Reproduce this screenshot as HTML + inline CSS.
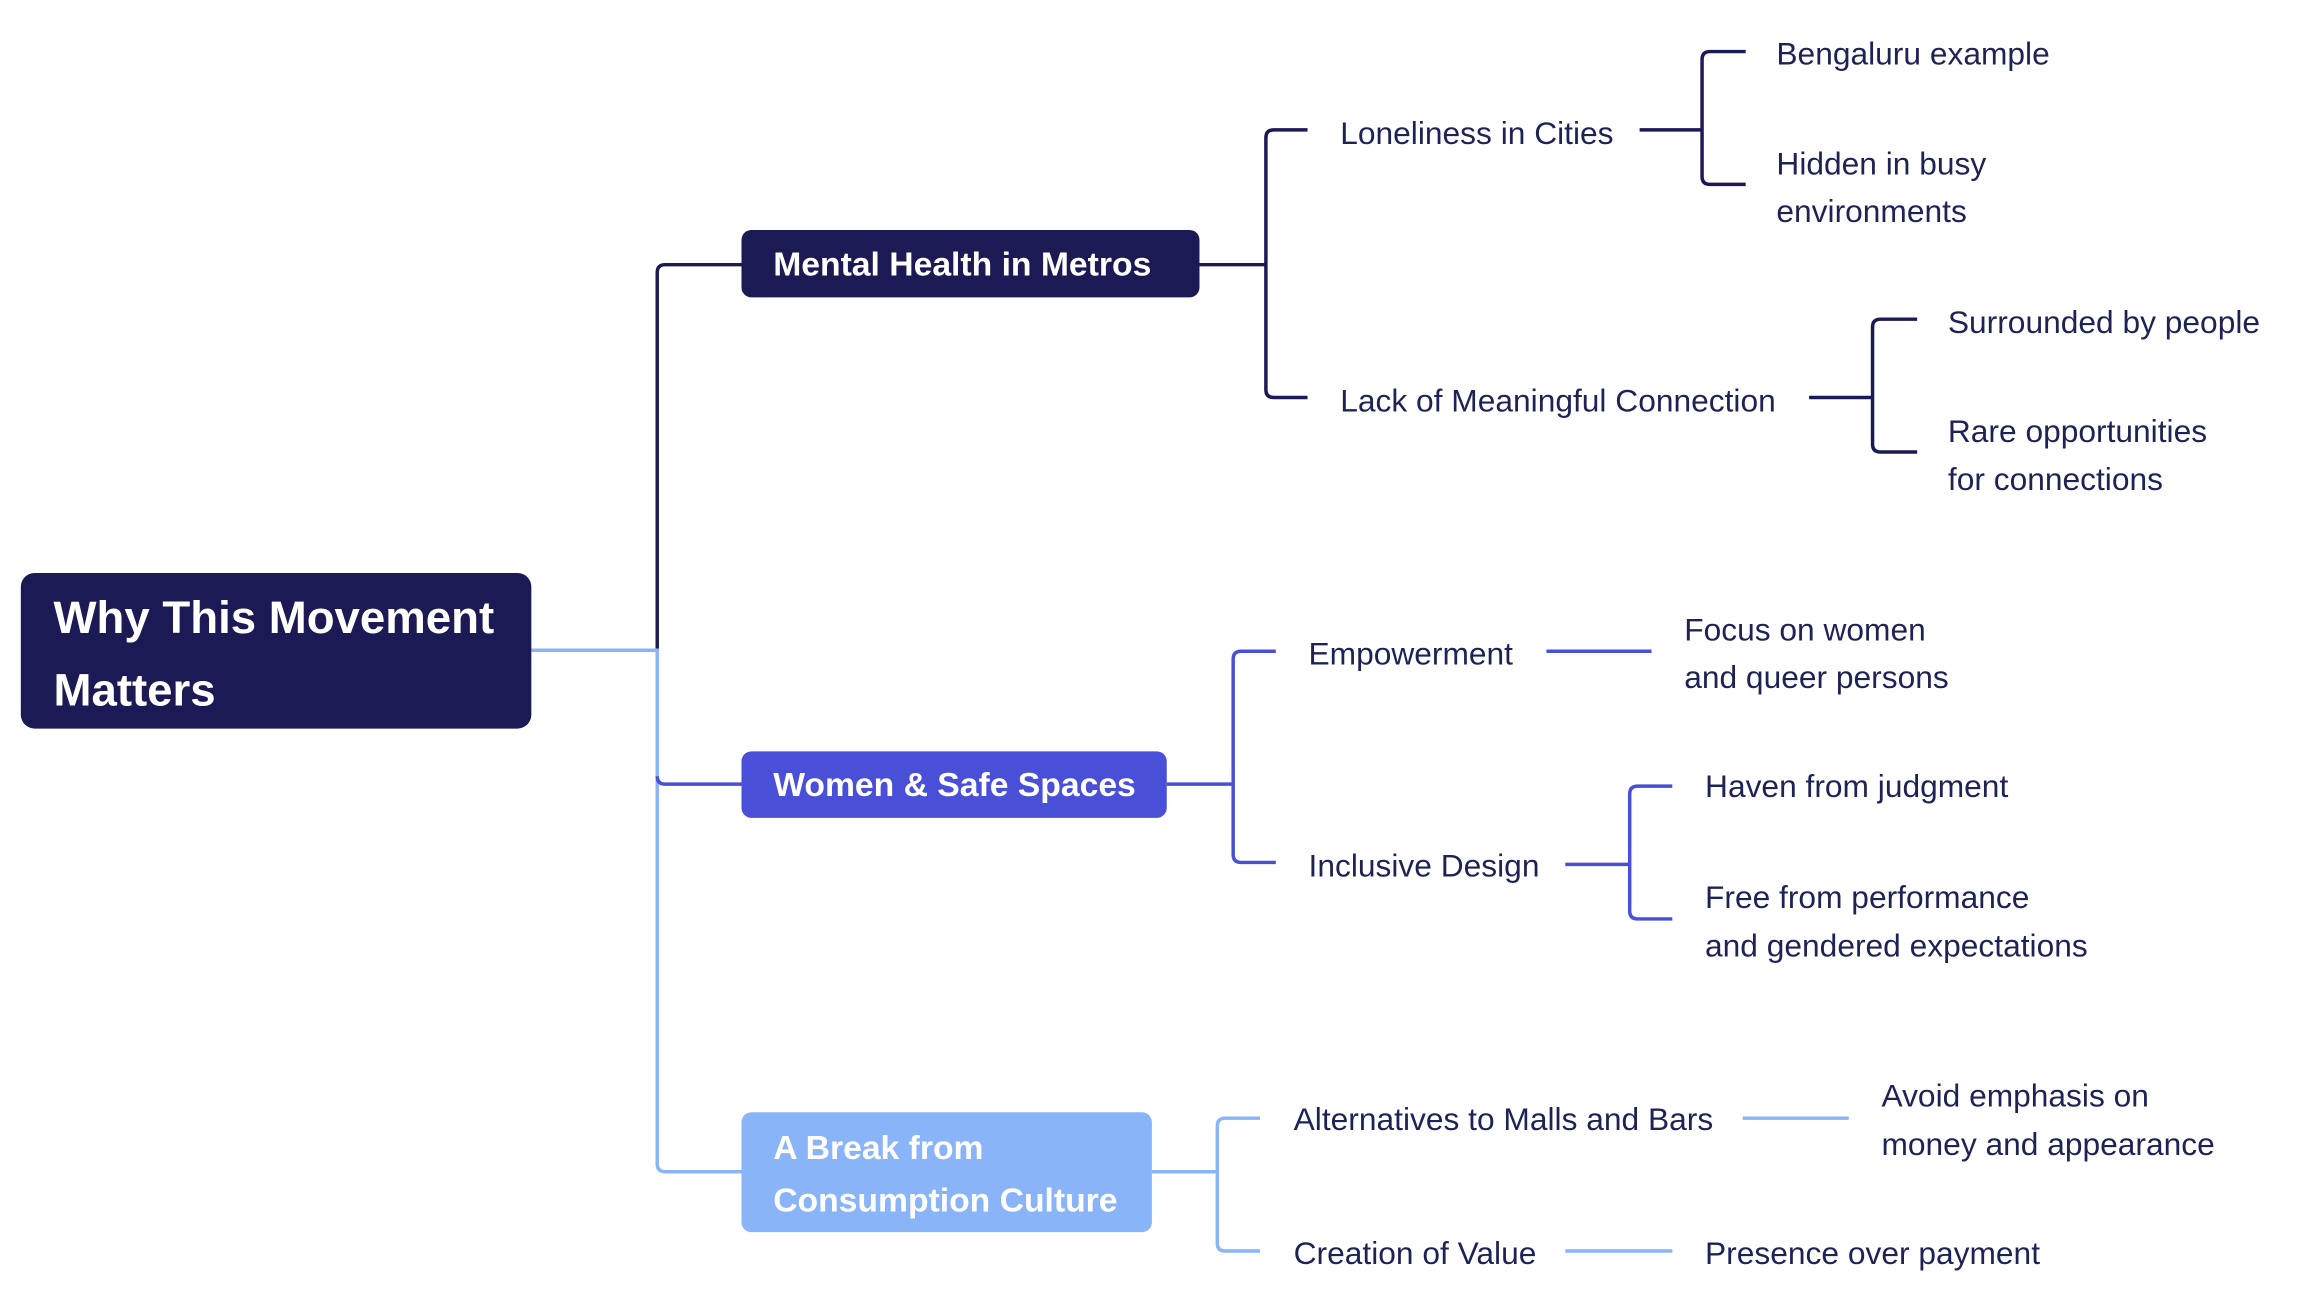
<!DOCTYPE html>
<html><head><meta charset="utf-8"><style>
html,body{margin:0;padding:0;background:#fff;}
svg{display:block;}
text{font-family:"Liberation Sans",sans-serif;dominant-baseline:central;}
.l{font-size:32px;fill:#1e2356;}
.b{font-size:34px;font-weight:bold;fill:#fff;}
</style></head><body>
<svg width="2314" height="1289" viewBox="0 0 2314 1289" xmlns="http://www.w3.org/2000/svg">
<g transform="scale(0.9913)">
<g fill="none" stroke-width="3.5">
<path d="M748 267 H671 Q663 267 663 275 V656" stroke="#1b1a55"/>
<path d="M536 656 H663 V1174 Q663 1182 671 1182 H748" stroke="#8ab4f8"/>
<path d="M663 783 Q663 791 671 791 H748" stroke="#4a4fd8"/>
<g stroke="#1b1a55">
<path d="M1210 267 H1277"/>
<path d="M1319 131 H1285 Q1277 131 1277 139 V393 Q1277 401 1285 401 H1319"/>
<path d="M1654 131 H1717"/>
<path d="M1761 52 H1725 Q1717 52 1717 60 V178 Q1717 186 1725 186 H1761"/>
<path d="M1825 401 H1889"/>
<path d="M1934 322 H1897 Q1889 322 1889 330 V448 Q1889 456 1897 456 H1934"/>
</g>
<g stroke="#4a4fd8">
<path d="M1177 791 H1244"/>
<path d="M1287 657 H1252 Q1244 657 1244 665 V862 Q1244 870 1252 870 H1287"/>
<path d="M1560 657 H1666"/>
<path d="M1579 872 H1644"/>
<path d="M1687 793 H1652 Q1644 793 1644 801 V919 Q1644 927 1652 927 H1687"/>
</g>
<g stroke="#8ab4f8">
<path d="M1162 1182 H1228"/>
<path d="M1271 1128 H1236 Q1228 1128 1228 1136 V1254 Q1228 1262 1236 1262 H1271"/>
<path d="M1758 1128 H1865"/>
<path d="M1579 1262 H1687"/>
</g>
</g>
<rect x="21" y="578" width="515" height="157" rx="14" fill="#1b1a55"/>
<text x="54" y="623" style="font-size:46px;font-weight:bold;fill:#fff">Why This Movement</text>
<text x="54" y="696" style="font-size:46px;font-weight:bold;fill:#fff">Matters</text>
<rect x="748" y="232" width="462" height="68" rx="10" fill="#1b1a55"/>
<text class="b" x="780" y="267">Mental Health in Metros</text>
<rect x="748" y="758" width="429" height="67" rx="10" fill="#4a4fd8"/>
<text class="b" x="780" y="792">Women &amp; Safe Spaces</text>
<rect x="748" y="1122" width="414" height="121" rx="10" fill="#8ab4f8"/>
<text class="b" x="780" y="1158">A Break from</text>
<text class="b" x="780" y="1211">Consumption Culture</text>
<text class="l" x="1352" y="134">Loneliness in Cities</text>
<text class="l" x="1352" y="404">Lack of Meaningful Connection</text>
<text class="l" x="1792" y="54">Bengaluru example</text>
<text class="l" x="1792" y="165">Hidden in busy</text>
<text class="l" x="1792" y="213">environments</text>
<text class="l" x="1965" y="325">Surrounded by people</text>
<text class="l" x="1965" y="435">Rare opportunities</text>
<text class="l" x="1965" y="483">for connections</text>
<text class="l" x="1320" y="659">Empowerment</text>
<text class="l" x="1320" y="873">Inclusive Design</text>
<text class="l" x="1699" y="635">Focus on women</text>
<text class="l" x="1699" y="683">and queer persons</text>
<text class="l" x="1720" y="793">Haven from judgment</text>
<text class="l" x="1720" y="905">Free from performance</text>
<text class="l" x="1720" y="954">and gendered expectations</text>
<text class="l" x="1305" y="1129">Alternatives to Malls and Bars</text>
<text class="l" x="1305" y="1264">Creation of Value</text>
<text class="l" x="1898" y="1105">Avoid emphasis on</text>
<text class="l" x="1898" y="1154">money and appearance</text>
<text class="l" x="1720" y="1264">Presence over payment</text>
</g>
</svg>
</body></html>
